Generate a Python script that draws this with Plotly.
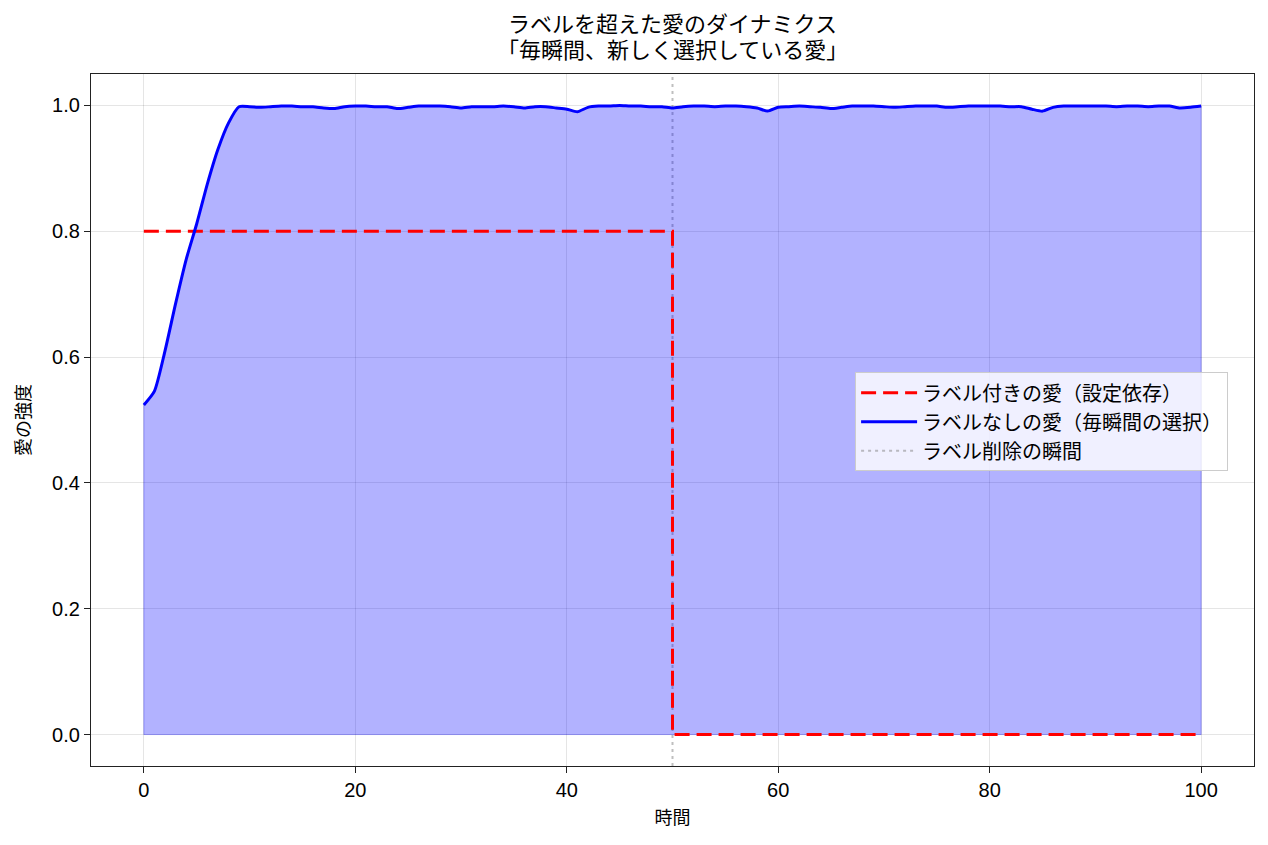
import plotly.graph_objects as go

# ---- data ----
time_label = [0, 50, 50, 100]
love_label = [0.8, 0.8, 0.0, 0.0]

time_free = list(range(0, 101))
love_free = [
    0.524, 0.546, 0.610, 0.685, 0.755, 0.812, 0.875, 0.930, 0.972, 0.998,
    0.998, 0.997, 0.998, 0.999, 0.999, 0.998, 0.998, 0.996, 0.995, 0.998,
    0.999, 0.999, 0.998, 0.998, 0.995, 0.997, 0.999, 0.999, 0.999, 0.998,
    0.996, 0.998, 0.998, 0.998, 0.999, 0.998, 0.996, 0.998, 0.998, 0.996,
    0.994, 0.990, 0.997, 0.999, 0.999, 1.000, 0.999, 0.999, 0.998, 0.998,
    0.996, 0.998, 0.999, 0.999, 0.998, 0.999, 0.999, 0.998, 0.996, 0.991,
    0.997, 0.998, 0.999, 0.998, 0.997, 0.995, 0.997, 0.999, 0.999, 0.999,
    0.998, 0.997, 0.998, 0.999, 0.999, 0.999, 0.997, 0.998, 0.999, 0.999,
    0.999, 0.999, 0.998, 0.998, 0.994, 0.991, 0.997, 0.999, 0.999, 0.999,
    0.999, 0.999, 0.998, 0.999, 0.999, 0.998, 0.999, 0.999, 0.996, 0.997,
    0.999,
]
removal_time = 50
x_ticks = [0, 20, 40, 60, 80, 100]
y_ticks = [0.0, 0.2, 0.4, 0.6, 0.8, 1.0]

title_lines = ["ラベルを超えた愛のダイナミクス", "「毎瞬間、新しく選択している愛」"]
name_label = "ラベル付きの愛（設定依存）"
name_free = "ラベルなしの愛（毎瞬間の選択）"
name_removal = "ラベル削除の瞬間"

FONT = "Noto Sans CJK JP, Noto Sans, sans-serif"
TICKFONT = "Liberation Sans, Arial, sans-serif"
edge = "rgba(0,0,255,0.3)"
gray = "rgba(128,128,128,0.5)"

fig = go.Figure()

# fill under free love
fig.add_trace(go.Scatter(
    x=time_free, y=love_free, mode="lines", fill="tozeroy",
    fillcolor="rgba(0,0,255,0.3)",
    line=dict(color=edge, width=1, shape="spline", smoothing=0.6),
    showlegend=False, hoverinfo="skip"))

# labeled love
fig.add_trace(go.Scatter(
    x=time_label, y=love_label, mode="lines", name=name_label,
    line=dict(color="#ff0000", width=3, dash="15px,7px")))

# free love
fig.add_trace(go.Scatter(
    x=time_free, y=love_free, mode="lines", name=name_free,
    line=dict(color="#0000ff", width=3, shape="spline", smoothing=0.6)))

# removal moment (legend entry; the full-height line is a shape)
fig.add_trace(go.Scatter(
    x=[None], y=[None], mode="lines", name=name_removal,
    line=dict(color=gray, width=2, dash="3px,4px")))

shapes = [
    dict(type="line", xref="x", yref="y", x0=time_free[0], x1=time_free[-1], y0=0, y1=0,
         line=dict(color=edge, width=1), layer="below"),
    dict(type="line", xref="x", yref="y", x0=time_free[0], x1=time_free[0], y0=0, y1=love_free[0],
         line=dict(color=edge, width=1), layer="below"),
    dict(type="line", xref="x", yref="y", x0=time_free[-1], x1=time_free[-1], y0=0, y1=love_free[-1],
         line=dict(color=edge, width=1), layer="below"),
    dict(type="line", xref="x", yref="paper", x0=removal_time, x1=removal_time, y0=0, y1=1,
         line=dict(color=gray, width=2, dash="3px,4px"), layer="below"),
]

title_annotations = [
    dict(text=title_lines[0], xref="paper", yref="paper", x=0.5, y=1.0751,
         xanchor="center", yanchor="middle", showarrow=False, font=dict(size=22, family=FONT)),
    dict(text=title_lines[1], xref="paper", yref="paper", x=0.5, y=1.0376,
         xanchor="center", yanchor="middle", showarrow=False, font=dict(size=22, family=FONT)),
]

fig.update_layout(
    width=1260, height=837,
    margin=dict(l=83, r=14, t=66, b=79),
    paper_bgcolor="white", plot_bgcolor="white",
    font=dict(family=FONT, size=16, color="black"),
    annotations=title_annotations,
    shapes=shapes,
    legend=dict(x=0.657, y=0.569, xanchor="left", yanchor="top",
                bgcolor="rgba(255,255,255,0.8)", bordercolor="#cccccc", borderwidth=1,
                font=dict(size=20, family=FONT), tracegroupgap=0, itemwidth=56),
)

fig.update_xaxes(
    range=[-5, 105], tickvals=x_ticks, showgrid=True, gridcolor="rgba(0,0,0,0.1)", gridwidth=1,
    zeroline=False, showline=True, linecolor="#222222", linewidth=1.3, mirror=True,
    ticks="outside", ticklen=6, tickcolor="#222222", tickwidth=1.3,
    tickfont=dict(size=20, family=TICKFONT),
    title=dict(text="時間", font=dict(size=18), standoff=11))
fig.update_yaxes(
    range=[-0.05, 1.05], tickvals=y_ticks, tickformat=".1f", showgrid=True,
    gridcolor="rgba(0,0,0,0.1)", gridwidth=1,
    zeroline=False, showline=True, linecolor="#222222", linewidth=1.3, mirror=True,
    ticks="outside", ticklen=6, tickcolor="#222222", tickwidth=1.3,
    tickfont=dict(size=20, family=TICKFONT),
    title=dict(text="愛の強度", font=dict(size=18), standoff=16))

fig.write_html("out.html")
